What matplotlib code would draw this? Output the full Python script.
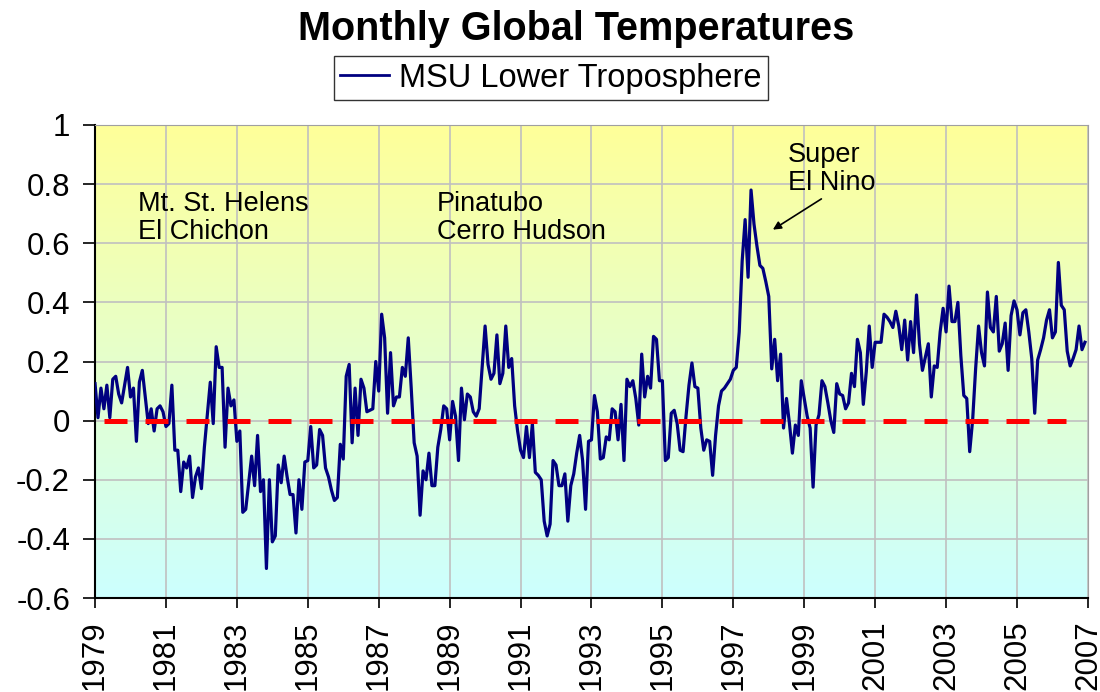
import numpy as np
import matplotlib.pyplot as plt
from matplotlib.lines import Line2D

plt.rcParams['font.family'] = ['Liberation Sans', 'DejaVu Sans']

# Monthly anomalies (deg C), Jan 1979 onward
t_1979_83 = [0.125, 0.01, 0.11, 0.04, 0.12, 0.01, 0.14, 0.15, 0.09, 0.06,
             0.12, 0.18, 0.08, 0.11, -0.07, 0.13, 0.17, 0.08, -0.01, 0.04,
             -0.035, 0.04, 0.05, 0.03, -0.02, -0.01, 0.12, -0.10, -0.10, -0.24,
             -0.14, -0.16, -0.12, -0.26, -0.19, -0.16, -0.23, -0.09, 0.02, 0.13,
             -0.01, 0.25, 0.18, 0.18, -0.09, 0.11, 0.05, 0.07, -0.07, -0.035,
             -0.31, -0.30, -0.21, -0.12, -0.22, -0.05]
t_1983_88 = [-0.24, -0.20, -0.50, -0.20, -0.41, -0.39, -0.15, -0.21, -0.12, -0.19,
             -0.25, -0.25, -0.38, -0.20, -0.30, -0.14, -0.135, -0.02, -0.16, -0.15,
             -0.03, -0.05, -0.16, -0.19, -0.235, -0.27, -0.26, -0.08, -0.13, 0.15,
             0.19, -0.075, 0.11, -0.05, 0.14, 0.11, 0.03, 0.035, 0.04, 0.20,
             0.10, 0.36, 0.28, 0.025, 0.23, 0.05, 0.08, 0.08, 0.18, 0.15,
             0.28, 0.11, -0.075, -0.12, -0.32]
t_1988_93 = [-0.17, -0.20, -0.11, -0.22, -0.22, -0.09, -0.03, 0.05, 0.04, -0.065,
             0.065, 0.015, -0.135, 0.11, 0.003, 0.09, 0.08, 0.03, 0.015, 0.04,
             0.18, 0.32, 0.19, 0.14, 0.16, 0.29, 0.125, 0.16, 0.32, 0.18,
             0.21, 0.05, -0.035, -0.10, -0.125, -0.02, -0.125, -0.01, -0.175, -0.185,
             -0.20, -0.34, -0.39, -0.35, -0.135, -0.15, -0.22, -0.22, -0.18, -0.34,
             -0.22, -0.18, -0.11, -0.05, -0.135, -0.30]
t_1993_97 = [-0.07, -0.065, 0.085, 0.03, -0.13, -0.125, -0.055, -0.065, 0.04, 0.03,
             -0.065, 0.055, -0.135, 0.14, 0.115, 0.135, 0.075, -0.015, 0.225, 0.08,
             0.15, 0.11, 0.285, 0.275, 0.135, 0.135, -0.135, -0.125, 0.025, 0.035,
             -0.01, -0.10, -0.105, 0.015, 0.12, 0.195, 0.115, 0.11, -0.025, -0.10,
             -0.065, -0.07, -0.185, -0.05, 0.05, 0.10, 0.11, 0.125, 0.14, 0.17,
             0.18, 0.30, 0.54, 0.68, 0.485]
t_1998_02 = [0.78, 0.665, 0.59, 0.525, 0.515, 0.47, 0.42, 0.175, 0.275, 0.135,
             0.225, -0.025, 0.075, -0.01, -0.11, -0.015, -0.05, 0.135, 0.075, 0.015,
             -0.025, -0.225, -0.015, 0.02, 0.135, 0.115, 0.06, 0.0, -0.04, 0.125,
             0.09, 0.085, 0.04, 0.06, 0.16, 0.115, 0.275, 0.23, 0.055, 0.165,
             0.32, 0.18, 0.265, 0.265, 0.265, 0.36, 0.35, 0.335, 0.315, 0.37,
             0.32, 0.24, 0.34, 0.205, 0.335]
t_2002_06 = [0.23, 0.425, 0.26, 0.17, 0.215, 0.26, 0.08, 0.185, 0.18, 0.30,
             0.38, 0.30, 0.455, 0.335, 0.335, 0.40, 0.22, 0.085, 0.075, -0.105,
             0.003, 0.175, 0.32, 0.23, 0.185, 0.435, 0.315, 0.30, 0.42, 0.235,
             0.26, 0.33, 0.17, 0.355, 0.405, 0.375, 0.29, 0.365, 0.375, 0.30,
             0.21, 0.025, 0.205, 0.24, 0.28, 0.34, 0.375, 0.28, 0.30, 0.535,
             0.39, 0.375, 0.235, 0.185, 0.21, 0.24, 0.32, 0.24, 0.265]

temps = np.array(t_1979_83 + t_1983_88 + t_1988_93 + t_1993_97 + t_1998_02 + t_2002_06)
years = 1979 + np.arange(len(temps)) / 12.0

zero_span = [1979.25, 2006.38]
year_ticks = list(range(1979, 2008, 2))
y_ticks = [1, 0.8, 0.6, 0.4, 0.2, 0, -0.2, -0.4, -0.6]
y_labels = ['1', '0.8', '0.6', '0.4', '0.2', '0', '-0.2', '-0.4', '-0.6']

fig = plt.figure(figsize=(11, 6.92), dpi=100)
ax = fig.add_axes([0.0864, 0.1358, 0.9026, 0.6836])

# yellow to cyan gradient background
top = np.array([255, 255, 153]) / 255
bot = np.array([204, 255, 255]) / 255
f = np.linspace(0, 1, 256)[:, None]
grad = (top * (1 - f) + bot * f)[:, None, :]
ax.imshow(grad, extent=[0, 1, 0, 1], transform=ax.transAxes, aspect='auto', zorder=0)

ax.set_xlim(1979, 2007)
ax.set_ylim(-0.6, 1)
ax.set_xticks(year_ticks)
ax.set_xticklabels([str(y) for y in year_ticks], rotation=90, fontsize=22.5)
ax.set_yticks(y_ticks)
ax.set_yticklabels(y_labels, fontsize=22.5)
ax.grid(True, color='#c0c0c0', linewidth=1.2, zorder=1)
ax.set_axisbelow(True)
ax.tick_params(axis='y', direction='out', length=9, width=1.2, pad=9)
ax.tick_params(axis='x', direction='out', length=7, width=1.2, pad=9)
for s in ['top', 'right']:
    ax.spines[s].set_color('#a0a0a0')
for s in ['left', 'bottom']:
    ax.spines[s].set_linewidth(1.5)

ax.plot(years, temps, color='#000080', linewidth=2.3, zorder=3,
        label='MSU Lower Troposphere')
zl, = ax.plot(zero_span, [0, 0], color='#ff0000', linewidth=3.6, zorder=4)
zl.set_dashes([4.6, 3.6])

ax.text(1980.2, 0.685, 'Mt. St. Helens\nEl Chichon', fontsize=19.5,
        va='center', ha='left', linespacing=1.12)
ax.text(1988.65, 0.685, 'Pinatubo\nCerro Hudson', fontsize=19.5,
        va='center', ha='left', linespacing=1.12)
ax.text(1998.53, 0.851, 'Super\nEl Nino', fontsize=19.5,
        va='center', ha='left', linespacing=1.12)
ax.annotate('', xy=(1998.05, 0.641), xytext=(1999.55, 0.755),
            arrowprops=dict(arrowstyle='-|>', color='black', lw=1.2,
                            mutation_scale=12))

fig.text(0.524, 0.958, 'Monthly Global Temperatures', fontsize=28.5,
         fontweight='bold', ha='center', va='center')
handle = Line2D([], [], color='#000080', linewidth=2)
leg = fig.legend([handle], ['MSU Lower Troposphere'], loc='center',
                 bbox_to_anchor=(0.501, 0.887), fontsize=23.5, frameon=True,
                 fancybox=False, edgecolor='black', handlelength=1.5,
                 handletextpad=0.3, borderpad=0.2)
leg.get_frame().set_linewidth(1.0)

fig.savefig('out.png', dpi=100)
